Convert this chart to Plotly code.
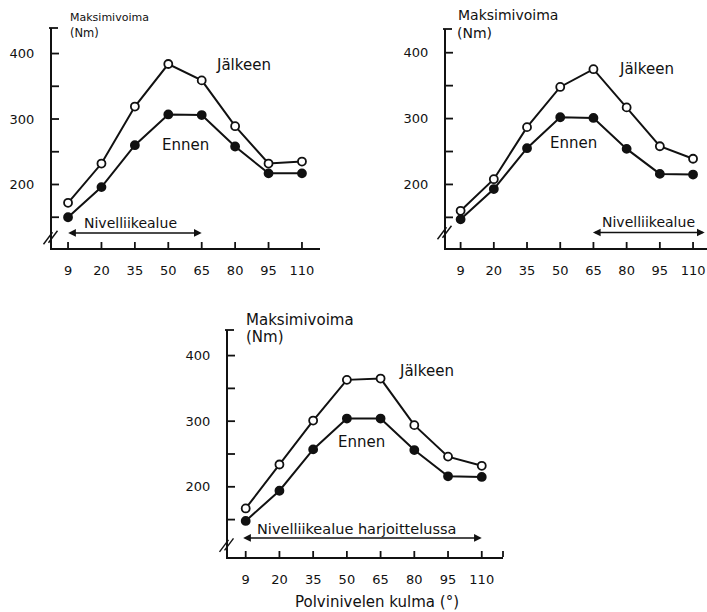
import plotly.graph_objects as go

# Knee angle (degrees) on the x axis, shared by all three panels
angles = ["9", "20", "35", "50", "65", "80", "95", "110"]

# Maximum force (Nm) before ("Ennen") and after ("Jälkeen") training
p1_after = [172, 232, 319, 384, 359, 289, 232, 235]
p1_before = [150, 196, 260, 307, 306, 258, 217, 217]

p2_after = [160, 208, 287, 348, 375, 317, 258, 239]
p2_before = [147, 193, 255, 302, 301, 254, 216, 215]

p3_after = [167, 234, 301, 363, 365, 294, 246, 232]
p3_before = [148, 194, 257, 304, 304, 256, 216, 215]

y_tickvals = [150, 200, 250, 300, 350, 400]
y_ticktext = ["", "200", "", "300", "", "400"]

W, H = 707, 612
INK = "#111111"
FONT = "DejaVu Sans"


def px_x(p):
    return p / W


def px_y(p):
    return 1 - p / H


# panel layout: x-domain px, y-domain px (bottom, top), x range, y range, break, cap
panels = [
    dict(xd=(52, 320), yd=(248, 28), xr=[-0.48, 7.54], yr=[103, 439], yb=119),
    dict(xd=(446, 707), yd=(248, 29), xr=[-0.44, 7.42], yr=[103.5, 436], yb=127),
    dict(xd=(228, 503), yd=(557, 330), xr=[-0.525, 7.63], yr=[93, 439], yb=111),
]
series = [(p1_after, p1_before), (p2_after, p2_before), (p3_after, p3_before)]

fig = go.Figure()
layout = dict(
    width=W, height=H,
    margin=dict(l=0, r=0, t=0, b=0),
    paper_bgcolor="white", plot_bgcolor="white",
    showlegend=False,
    font=dict(family=FONT, color=INK, size=13),
)
shapes = []
ann = []


def seg(xref, yref, x0, x1, y0, y1, width=1.8):
    shapes.append(dict(type="line", xref=xref, yref=yref, x0=x0, x1=x1, y0=y0, y1=y1,
                       line=dict(color=INK, width=width), layer="above"))


for i, (pn, (after, before)) in enumerate(zip(panels, series)):
    n = "" if i == 0 else str(i + 1)
    xa, ya = "x" + n, "y" + n
    for vals, fill in ((after, "white"), (before, INK)):
        fig.add_trace(go.Scatter(
            x=angles, y=vals, xaxis=xa, yaxis=ya, mode="lines+markers",
            line=dict(color=INK, width=2),
            marker=dict(size=8, color=fill, line=dict(color=INK, width=1.8)),
            cliponaxis=False,
        ))
    layout["xaxis" + n] = dict(
        domain=[px_x(pn["xd"][0]), px_x(pn["xd"][1])],
        anchor=ya, type="category", range=pn["xr"],
        showline=True, linecolor=INK, linewidth=2,
        ticks="", showgrid=False, zeroline=False, ticklabelstandoff=9,
        tickfont=dict(size=13, color=INK),
    )
    layout["yaxis" + n] = dict(
        domain=[px_y(pn["yd"][0]), px_y(pn["yd"][1])],
        anchor=xa, range=pn["yr"],
        tickmode="array", tickvals=y_tickvals, ticktext=y_ticktext,
        showline=True, linecolor=INK, linewidth=2,
        ticks="", showgrid=False, zeroline=False, ticklabelstandoff=13,
        tickfont=dict(size=13, color=INK),
    )
    # pixel sizes of this panel, to express tick lengths as domain fractions
    pw = pn["xd"][1] - pn["xd"][0]
    ph = pn["yd"][0] - pn["yd"][1]
    # inward tick marks
    for k in range(len(angles)):
        seg(xa, ya + " domain", k, k, 0, 6 / ph)
    for v in y_tickvals:
        seg(xa + " domain", ya, 0, 7 / pw, v, v)
    # cap at the top of the y axis
    seg(xa + " domain", ya + " domain", -3 / pw, 6 / pw, 1, 1)
    # axis break (//) near the bottom of the y axis
    yb = pn["yb"]
    yspan = pn["yr"][1] - pn["yr"][0]
    dy = yspan / ph
    for off in (-2.5, 2.5):
        seg(xa + " domain", ya, (-6 + off) / pw, (3 + off) / pw,
            yb + (-6 + off * 0.3) * dy, yb + (6 + off * 0.3) * dy, 1.4)

# end tick on the bottom x axis
seg("x3 domain", "y3 domain", 1, 1, 0, 6 / 227)

fig.update_layout(**layout)


def text(s, xref, yref, x, y, size, xanchor="center"):
    ann.append(dict(text=s, xref=xref, yref=yref, x=x, y=y, showarrow=False,
                    xanchor=xanchor, yanchor="middle",
                    font=dict(size=size, color=INK, family=FONT)))


def arrow(xref, yref, x0, x1, y):
    ann.append(dict(text="", xref=xref, yref=yref, axref=xref, ayref=yref,
                    x=x1, y=y, ax=x0, ay=y, showarrow=True,
                    arrowside="end+start", arrowhead=2, startarrowhead=2,
                    arrowsize=1.1, startarrowsize=1.1, arrowwidth=1.4,
                    arrowcolor=INK))


# series labels
text("Jälkeen", "x", "y", 5.26, 382, 15)
text("Ennen", "x", "y", 3.5, 260, 15)
text("Jälkeen", "x2", "y2", 5.6, 375, 15)
text("Ennen", "x2", "y2", 3.41, 263, 15)
text("Jälkeen", "x3", "y3", 5.37, 376, 15)
text("Ennen", "x3", "y3", 3.44, 269, 15)

# range-of-motion arrows
arrow("x", "y", -0.04, 4.0, 126)
text("Nivelliikealue", "x", "y", 0.41, 141, 14, "left")
arrow("x2", "y2", 3.94, 7.35, 127)
text("Nivelliikealue", "x2", "y2", 4.2, 143, 14, "left")
arrow("x3", "y3", -0.12, 7.0, 122)
text("Nivelliikealue harjoittelussa", "x3", "y3", 0.28, 135, 14.5, "left")

# y-axis titles
text("Maksimivoima", "paper", "paper", px_x(68), px_y(17), 11, "left")
text("(Nm)", "paper", "paper", px_x(68), px_y(33), 11.5, "left")
text("Maksimivoima", "paper", "paper", px_x(456), px_y(15), 14, "left")
text("(Nm)", "paper", "paper", px_x(455), px_y(33), 14, "left")
text("Maksimivoima", "paper", "paper", px_x(244), px_y(320), 15, "left")
text("(Nm)", "paper", "paper", px_x(244), px_y(337), 15, "left")

# x-axis title
text("Polvinivelen kulma (°)", "paper", "paper", px_x(377), px_y(602), 15)

fig.update_layout(annotations=ann, shapes=shapes)
fig.write_html("out.html")
